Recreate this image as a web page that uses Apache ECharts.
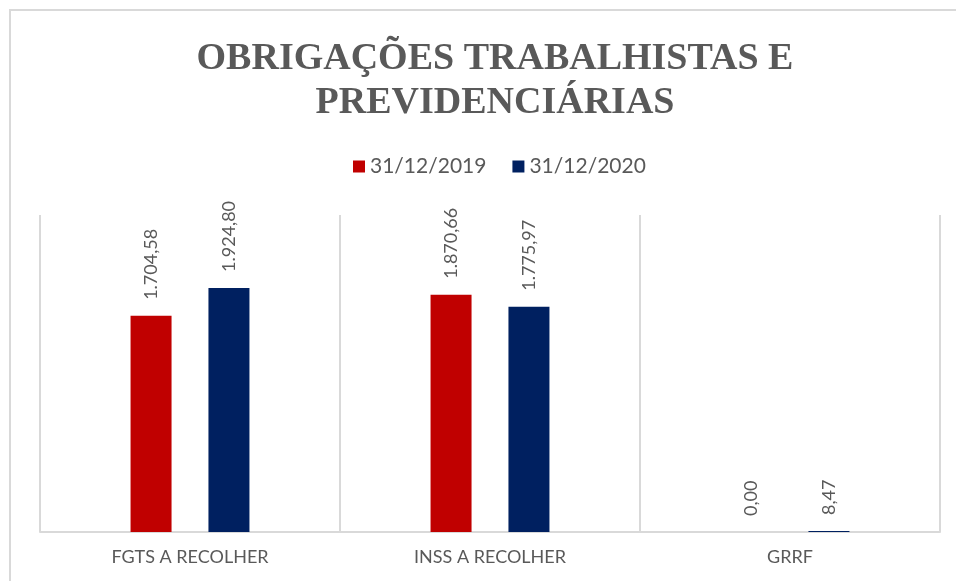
<!DOCTYPE html>
<html>
<head>
<meta charset="utf-8">
<script src="https://cdn.jsdelivr.net/npm/echarts@6/dist/echarts.min.js"></script>
<style>
  html, body { margin: 0; padding: 0; background: #fff; }
  #chart { width: 956px; height: 581px; }
</style>
</head>
<body>
<div id="chart"></div>
<script>
// dados do gráfico
const categorias = ['FGTS A RECOLHER', 'INSS A RECOLHER', 'GRRF']
const serie2019 = [1704.58, 1870.66, 0.00]
const serie2020 = [1924.80, 1775.97, 8.47]
const nomes = ['31/12/2019', '31/12/2020']

const cinza = '#595959'

function formatBR(v) {
  return v.toLocaleString('pt-BR', { minimumFractionDigits: 2, maximumFractionDigits: 2 })
}

const labelCfg = {
  show: true,
  position: 'top',
  rotate: 90,
  align: 'left',
  verticalAlign: 'middle',
  distance: 16,
  color: cinza,
  fontFamily: 'Lato',
  fontSize: 18,
  formatter: p => formatBR(p.value)
}

const chart = echarts.init(document.getElementById('chart'))
chart.setOption({
  animation: false,
  title: {
    text: 'OBRIGAÇÕES TRABALHISTAS E\nPREVIDENCIÁRIAS',
    left: 490,
    textAlign: 'center',
    top: 32,
    textStyle: {
      fontFamily: 'Liberation Serif',
      fontWeight: 'bold',
      fontSize: 38,
      lineHeight: 44,
      color: cinza
    }
  },
  legend: {
    data: nomes,
    top: 151,
    left: 348,
    itemWidth: 12,
    itemHeight: 12,
    itemGap: 26,
    icon: 'rect',
    textStyle: { fontFamily: 'Lato', fontSize: 21, color: cinza }
  },
  grid: { left: 40, right: 16, top: 215, bottom: 49 },
  xAxis: {
    type: 'category',
    data: categorias,
    axisLine: { lineStyle: { color: '#d9d9d9', width: 2 } },
    axisTick: { show: false },
    splitLine: { show: true, interval: 0, lineStyle: { color: '#d9d9d9', width: 2 } },
    axisLabel: { margin: 16, color: cinza, fontFamily: 'Lato', fontSize: 18 }
  },
  yAxis: {
    type: 'value',
    min: 0,
    max: 2500,
    show: false,
    splitLine: { show: false }
  },
  graphic: [{
    type: 'rect',
    shape: { x: 10, y: 10, width: 1000, height: 700 },
    style: { fill: 'none', stroke: '#d9d9d9', lineWidth: 2 },
    silent: true
  }],
  series: [
    {
      name: nomes[0],
      type: 'bar',
      data: serie2019,
      barWidth: 41,
      barGap: '90%',
      itemStyle: { color: '#c00000' },
      label: labelCfg
    },
    {
      name: nomes[1],
      type: 'bar',
      data: serie2020,
      barWidth: 41,
      barGap: '90%',
      itemStyle: { color: '#002060' },
      label: labelCfg
    }
  ]
})
</script>
</body>
</html>
